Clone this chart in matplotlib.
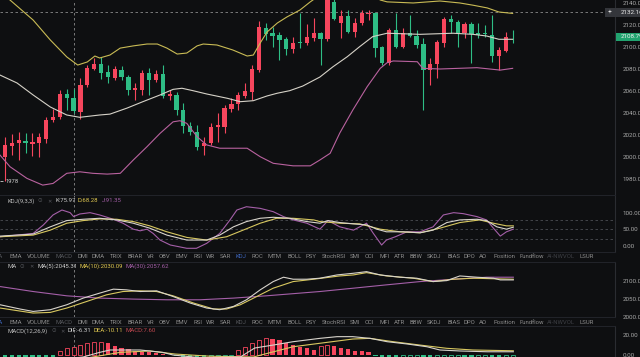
import matplotlib
matplotlib.use('Agg')
import matplotlib.pyplot as plt
import numpy as np

plt.rcParams['font.family'] = ['Roboto', 'DejaVu Sans']

W, H = 640, 357
BG = '#0e0f11'
UP = '#f6465d'
DOWN = '#2ebd85'
TXT = '#a8a8a8'
FS = 4.3

# ---------------- candle data ----------------
opens = [2000.3, 2010.3, 2013, 2014.8, 2012, 2013, 2016, 2033.6, 2036, 2057,
         2054, 2041, 2065.5, 2080, 2084.3, 2077.5, 2072, 2079, 2072.5, 2061,
         2061, 2076, 2070, 2075.5, 2055.7, 2056.4, 2042.7, 2028.5, 2023, 2010,
         2012.5, 2027.5, 2027.5, 2043.4, 2048, 2055.7, 2059.4, 2079, 2117, 2112.4,
         2111, 2107, 2098, 2104.8, 2103.4, 2108, 2112.5, 2107, 2141, 2122,
         2128, 2114, 2122, 2130, 2131.2, 2099.7, 2085.2, 2115, 2100.3, 2113,
         2110, 2102.7, 2079, 2084.5, 2104, 2125, 2123, 2112.5, 2121, 2112.5,
         2112.5, 2111, 2091.8, 2096.6, 2109.4]
highs = [2018.5, 2021, 2023, 2022, 2022, 2022, 2036.6, 2044, 2061, 2061.5,
         2062, 2071.5, 2083.6, 2089.7, 2090.6, 2083.6, 2083, 2082.7, 2074.5, 2067,
         2079, 2080.6, 2079, 2083.6, 2061, 2059.4, 2049, 2032, 2029, 2018.5,
         2030.6, 2039.7, 2047, 2053.4, 2059.4, 2067, 2083.6, 2124, 2121.5, 2118.5,
         2114, 2109.4, 2109.4, 2130.6, 2121, 2126, 2114, 2146, 2145, 2133.6,
         2133.6, 2126, 2133.6, 2133.6, 2132, 2101, 2117, 2130.6, 2117, 2129,
         2115.5, 2108, 2089.7, 2106.4, 2127.5, 2129, 2124.5, 2123, 2123, 2121.5,
         2120, 2129, 2100.3, 2114, 2115.5]
lows = [1978, 2002, 1997, 2004, 2001, 2000, 2012.5, 2032, 2035, 2043,
        2040, 2035, 2064, 2079, 2070.6, 2067.5, 2070, 2070, 2056.4, 2052,
        2056, 2056, 2068.5, 2053.4, 2052, 2038, 2021.5, 2020, 2006.4, 2002,
        2011, 2014, 2021.5, 2041, 2042.7, 2053.4, 2052, 2077.5, 2106.4, 2100.3,
        2088, 2092.7, 2094.3, 2099, 2101.8, 2105, 2083.6, 2105, 2124.5, 2108,
        2112.5, 2109.4, 2120, 2124.5, 2091, 2084, 2083.6, 2098.8, 2098.8, 2109.4,
        2098.8, 2042.7, 2065.5, 2071.5, 2100.3, 2112.5, 2100.3, 2108, 2085.2, 2108,
        2109.4, 2086.6, 2079, 2095, 2103.4]
closes = [2011, 2013, 2015.5, 2012.5, 2013.5, 2018, 2033.6, 2036.6, 2057, 2054,
          2042, 2065.5, 2080.6, 2084.3, 2076.6, 2072.5, 2079.7, 2072.5, 2061, 2062.5,
          2076, 2070, 2075.5, 2055.7, 2057, 2042.7, 2028, 2023, 2009.4, 2013,
          2027.5, 2029, 2044.3, 2048, 2056.4, 2060.3, 2079.7, 2118, 2111.8, 2110,
          2106.4, 2098, 2104, 2103.4, 2109, 2112.5, 2107, 2143, 2125, 2128,
          2114, 2122, 2130.6, 2131.2, 2098.8, 2085.2, 2115.5, 2100.3, 2113, 2110,
          2101.8, 2079, 2084.5, 2104.8, 2125, 2123, 2112.5, 2121, 2111.8, 2111.2,
          2111.5, 2091.8, 2097.3, 2109.4, 2108.79]

# ---------------- Bollinger bands ----------------
boll_up_x = [-1, 0.73, 4.1, 6.6, 9.0, 10.6, 12.0, 13.1, 13.8, 15.3, 16.8, 18.7, 20.7, 22.2, 23.6,
             25.1, 26.5, 28.0, 28.9, 30.9, 33.2, 35.3, 36.2, 37.2, 38.2, 39.7, 41.1, 43.0, 44.5,
             47, 50, 53, 54.7, 55.7, 59.5, 63.4, 66.3, 68.2, 70.3, 72.0, 74.0]
boll_up_y = [2150, 2142.7, 2124.5, 2106.4, 2091, 2083.6, 2086.4, 2091.8, 2090, 2092.7, 2099, 2101, 2102.7, 2102.7, 2099,
             2093.6, 2094.5, 2101, 2102.7, 2101.8, 2097.3, 2091.8, 2092.7, 2103.6, 2113.6, 2121.8, 2127.3, 2133.6, 2141,
             2152, 2158, 2150, 2142.7, 2141, 2140, 2141.8, 2140, 2138, 2135.5, 2131.8, 2130.5]
boll_mid_x = [-0.73, 1.75, 4.1, 6.6, 9.0, 10.9, 13.8, 15.3, 17.8, 20.1, 22.6, 24.5, 25.8, 27.4, 29.4,
              32.4, 34.3, 36.2, 38.2, 39.7, 41.5, 43.4, 45.9, 47.8, 49.9, 51.7, 53.6, 55.7, 60.5,
              65.3, 68.2, 70.2, 72.0, 74.0]
boll_mid_y = [2074.5, 2067.3, 2056.4, 2045.5, 2038.2, 2036.1, 2038.2, 2039, 2044.5, 2050.3, 2056.4, 2061.5, 2062.5, 2060.3, 2057.3,
              2053.4, 2050.3, 2051.2, 2055.5, 2058, 2060.3, 2064.5, 2072.7, 2082, 2091.2, 2100.3, 2109.4, 2112.5, 2111.5,
              2112.5, 2111.5, 2110, 2107, 2107]
boll_dn_x = [-0.73, 0.73, 3.2, 5.5, 7.0, 9.0, 10.9, 12.8, 14.9, 16.8, 18.7, 20.7, 22.6, 24.5, 25.5,
             26.5, 28.0, 29.4, 31.3, 35.3, 37.2, 39.1, 42.0, 44.5, 45.9, 47.4, 48.8, 50.7, 52.8,
             54.7, 55.7, 56.6, 60.1, 60.9, 63.4, 68.8, 72.2, 74.0]
boll_dn_y = [2001.8, 1991.2, 1980.6, 1974.5, 1976, 1985.2, 1986.6, 1985.2, 1984.5, 1985.2, 1997.3, 2009.4, 2021.5, 2032, 2033,
             2030.6, 2018.5, 2011, 2008, 2008, 2000.3, 1994.3, 1992, 1992, 1997.3, 2003.4, 2021.8, 2042.7, 2064,
             2080.6, 2085.7, 2087.3, 2086.6, 2080.6, 2080, 2081.2, 2079, 2080.6]

# ---------------- KDJ ----------------
k_x = [-0.7, 4.1, 6.6, 9.0, 11.4, 13.8, 16.3, 18.7, 21.1, 23.6, 26.5, 29.4, 31.3, 33.3, 35.2, 37.2, 39.1,
       41.5, 44.0, 45.9, 47.1, 48.8, 50.8, 52.7, 54.2, 55.6, 58.1, 60.5, 62.4, 64.4, 66.3, 68.8, 70.2,
       71.7, 73.1, 74.1]
k_y = [30, 36, 58, 77, 81, 84, 79, 69, 54, 33, 18, 18, 33, 58, 74, 84, 87,
       84, 74, 69, 77, 71, 67, 64, 51, 43, 43, 40, 48, 71, 79, 81, 77,
       58, 51, 57]
d_x = [-0.7, 4.1, 6.6, 9.0, 11.4, 13.8, 16.3, 18.7, 21.1, 23.6, 26.5, 29.4, 32.3, 34.7, 37.2, 39.6, 42.0,
       45.0, 45.9, 48.8, 51.7, 54.7, 57.6, 60.5, 63.4, 66.3, 69.2, 71.2, 73.1, 74.1]
d_y = [28, 33, 48, 69, 77, 82, 81, 74, 61, 43, 26, 18, 28, 48, 69, 84, 84,
       79, 74, 69, 67, 51, 43, 40, 54, 71, 79, 69, 61, 61]
j_x = [-0.7, 4.1, 5.6, 7.0, 8.3, 9.5, 10.0, 10.9, 12.4, 13.8, 15.8, 17.2, 18.7, 19.7, 20.7, 21.6, 22.6,
       24.1, 26.5, 27.9, 29.4, 31.3, 32.8, 33.8, 35.2, 37.2, 39.1, 40.6, 42.0, 44.0, 45.9, 47.1, 48.8,
       50.8, 52.7, 53.7, 54.9, 55.6, 56.9, 58.6, 60.5, 62.4, 63.9, 65.4, 66.8, 68.8, 70.2, 71.2, 72.2,
       73.1, 74.1]
j_y = [28, 38, 64, 94, 109, 101, 89, 97, 101, 94, 81, 69, 51, 46, 51, 38, 18,
       3, -7, -7, 8, 38, 79, 109, 119, 114, 104, 89, 79, 69, 51, 77, 58,
       48, 69, 38, 3, 18, 28, 43, 43, 58, 94, 101, 98, 89, 79, 54, 30,
       43, 51]

# ---------------- MA panel ----------------
ma5_x = [-0.7, 2.2, 4.1, 6.6, 9.0, 11.4, 13.8, 15.8, 17.7, 19.7, 22.1, 24.5, 27.0, 29.4, 31.3, 33.3,
         35.2, 37.2, 39.1, 40.6, 42.0, 44.0, 45.9, 48.4, 50.8, 52.7, 54.7, 57.6, 60.0, 62.4, 64.4,
         66.3, 68.8, 71.2, 72.2, 74.1]
ma5_y = [2033.6, 2021.9, 2015.3, 2020, 2033.6, 2051.9, 2065.6, 2076.5, 2074.6, 2070, 2071.9, 2056.3, 2038.3, 2024.6, 2020, 2029,
         2047.3, 2074.6, 2097.3, 2109.3, 2103.8, 2103.8, 2106.6, 2115.6, 2120.2, 2124.6, 2115.6, 2109.3, 2106.6, 2097.3, 2100,
         2112.8, 2109.3, 2106.6, 2101.9, 2101.9]
ma10_x = [-0.7, 4.1, 6.6, 9.0, 11.9, 14.8, 17.2, 19.7, 22.1, 24.5, 27.5, 30.4, 32.3, 34.3, 36.7, 39.1,
          42.0, 45.0, 48.8, 50.8, 52.7, 55.6, 59.5, 62.4, 65.4, 68.3, 72.2, 74.1]
ma10_y = [2024.6, 2010.9, 2012.6, 2024.6, 2042.6, 2060.9, 2070, 2071.9, 2070, 2058.2, 2038.3, 2021.9, 2021.9, 2033.6, 2056.3, 2079.2,
          2097.3, 2103.8, 2112.8, 2115.6, 2121.9, 2112.8, 2106.6, 2097.3, 2103.8, 2106.6, 2104.6, 2103.8]
ma30_x = [-0.7, 4.1, 9.0, 13.8, 18.7, 23.6, 28.4, 33.3, 38.1, 43.0, 45.9, 50.8, 55.6, 60.5, 65.4, 70.2, 74.1]
ma30_y = [2083.6, 2070, 2058.2, 2051.9, 2049.2, 2047.3, 2047.3, 2051.9, 2058.2, 2065.6, 2070, 2079.2, 2088.3, 2097.3, 2103.8,
          2109.3, 2109.3]

# ---------------- MACD ----------------
macd_hist = [-3, -3, -3, -3, -3, -3, -3, -3, 3.7, 6.5,
             8.1, 9.8, 11.6, 12.6, 13.2, 11.6, 9.1, 7.1, 5.5, 3.8,
             3.0, 2.4, 1.4, 0.3, -0.5, -1.2, -2, -2.5, -3, -3.2,
             -3, -2.5, -2, -1, 4.8, 8.1, 11.6, 14.6, 16.6, 16.4,
             14.6, 11.6, 9.8, 8.1, 6.5, 4.8, 8.8, 9.5, 8.8, 7,
             5.5, 4, 3.5, 3.0, -0.8, -2, -3, -3.5, -3.2, -3,
             -2.8, -3.5, -3.8, -3.4, -3, -2.6, -2.2, -2.5, -2.8, -2.4,
             -2, -2.6, -2.9, -2.5, -2.2]
dif_x = [-0.7, 5, 11.4, 13.8, 15.3, 19.7, 23.0, 24.5, 28.4, 34.3, 36.4, 39.1, 42.0, 45.9, 48.4, 50.7,
         53.2, 55.7, 58.6, 61.5, 63.4, 66.3, 70.3, 74.1]
dif_y = [-8, -7, -2.3, 2.4, 4.8, 4.8, 2.4, -0.3, -3, -2.3, 6.8, 9.8, 13.2, 16.6, 18.3, 18.3,
         16.6, 13.2, 10.9, 8.1, 4.8, 3.8, 3, 3]
dea_x = [-0.7, 6, 12.8, 16.8, 21.1, 24.8, 29.9, 36.2, 42.0, 45.9, 50.7, 53.2, 56.6, 60.5, 64.4, 68.2, 74.1]
dea_y = [-12, -10, -2.3, 2.4, 3.8, 0.7, -1.5, -2.3, 8.1, 11.6, 15.9, 16.6, 13.2, 9.8, 6.5, 4.8, 4]

# ---------------- texts ----------------
last_price = 2108.79
line_price = 2132.16
low_label = "1978"
crosshair_idx = 10
tabs = ["MA", "EMA", "VOLUME", "MACD", "DMI", "DMA", "TRIX", "BRAR", "VR", "OBV", "EMV", "RSI", "WR",
        "SAR", "KDJ", "ROC", "MTM", "BOLL", "PSY", "StochRSI", "SMI", "CCI", "MFI", "ATR", "BBW", "SKDJ",
        "BIAS", "DPO", "AO", "Position", "Fundflow", "AI-NWVOL", "LSUR"]

# ---------------- layout helpers ----------------
XMIN, XMAX = (0 - 5) / 6.86, (615 - 5) / 6.86


def rect(x0, y0, x1, y1):
    return [x0 / W, 1 - y1 / H, (x1 - x0) / W, (y1 - y0) / H]


def ftext(x, y, s, color=TXT, size=FS, **kw):
    fig.text(x / W, 1 - y / H, s, color=color, fontsize=size, va='center', ha=kw.pop('ha', 'left'), **kw)


fig = plt.figure(figsize=(6.4, 3.57), dpi=100, facecolor=BG)


def style(ax, ylim, yticks, fmt):
    ax.set_facecolor(BG)
    ax.set_xlim(XMIN, XMAX)
    ax.set_ylim(*ylim)
    for s in ['top', 'left', 'bottom']:
        ax.spines[s].set_visible(False)
    ax.spines['right'].set_color('#2a2c31')
    ax.spines['right'].set_linewidth(0.8)
    ax.set_xticks([])
    ax.yaxis.tick_right()
    ax.set_yticks(yticks)
    ax.set_yticklabels([fmt.format(v) for v in yticks])
    ax.tick_params(axis='y', length=0, pad=5.5, labelsize=4.5, labelcolor=TXT)
    ax.axvline(crosshair_idx, color='#8a8a8a', lw=0.6, ls=(0, (3, 3)), zorder=1)


# ---- main panel ----
ax = fig.add_axes(rect(0, 0, 615, 195))
style(ax, (1965.5, 2142.7), list(range(1980, 2141, 20)), '{:.2f}')
idx = np.arange(len(opens))
o, h, l, c = map(np.array, (opens, highs, lows, closes))
cols = np.where(c >= o, UP, DOWN)
ax.vlines(idx, l, h, colors=cols, lw=0.8, zorder=3)
ax.bar(idx, np.maximum(np.abs(c - o), 0.7), 0.62, bottom=np.minimum(o, c), color=cols, lw=0, zorder=3)
ax.plot(boll_up_x, boll_up_y, color='#c9bb55', lw=0.8, zorder=4)
ax.plot(boll_mid_x, boll_mid_y, color='#d6d2c8', lw=0.8, zorder=4)
ax.plot(boll_dn_x, boll_dn_y, color='#b9629f', lw=0.8, zorder=4)
ax.hlines(line_price, XMIN, (605 - 5) / 6.86, color='#8a8a8a', lw=0.6, ls=(0, (3, 3)), zorder=2)
ax.hlines(lows[0], -0.7, -0.3, color='#cfcfcf', lw=0.6)
ax.text(0.1, lows[0], low_label, color='#cfcfcf', fontsize=4.2, va='center', ha='left')

# price labels
fig.patches.append(plt.Rectangle((605 / W, 1 - 16.5 / H), 35 / W, 8 / H, transform=fig.transFigure,
                                 facecolor='#34363b', edgecolor='none', zorder=5))
ftext(607.5, 12.6, '+', color='#e0e0e0', size=5.0, zorder=6)
ftext(620.5, 12.7, f'{line_price:.2f}', color='#e8e8e8', size=4.5, zorder=6)
fig.patches.append(plt.Rectangle((616 / W, 1 - 41 / H), 24 / W, 8 / H, transform=fig.transFigure,
                                 facecolor='#21a36f', edgecolor='none', zorder=5))
ftext(620.5, 37, f'{last_price:.2f}', color='#f0f0f0', size=4.5, zorder=6)

# ---- KDJ panel ----
axk = fig.add_axes(rect(0, 195, 615, 252))
style(axk, (-18.2, 154.5), [0, 50, 100], '{:.2f}')
for v in (80, 50, 20):
    axk.axhline(v, color='#4a4c52', lw=0.6, ls=(0, (3, 3)), zorder=1)
axk.plot(j_x, j_y, color='#a45fa8', lw=0.8, zorder=3)
axk.plot(d_x, d_y, color='#d8c860', lw=0.8, zorder=3)
axk.plot(k_x, k_y, color='#d8d4cc', lw=0.8, zorder=3)

# ---- MA panel ----
axm = fig.add_axes(rect(0, 262, 615, 317))
style(axm, (2000.8, 2151.1), [2000, 2050, 2100], '{:.2f}')
axm.plot(ma30_x, ma30_y, color='#a45fa8', lw=0.8)
axm.plot(ma10_x, ma10_y, color='#d8c860', lw=0.8)
axm.plot(ma5_x, ma5_y, color='#d8d4cc', lw=0.8)

# ---- MACD panel ----
axc = fig.add_axes(rect(0, 326, 615, 357))
style(axc, (-2.3, 29.1), [0, 20], '{:.2f}')
hist = np.array(macd_hist)
rising = np.r_[False, hist[1:] > hist[:-1]]
hc = np.where(hist >= 0, UP, DOWN)
for i, v in enumerate(hist):
    if rising[i]:
        axc.bar(i, v, 0.58, facecolor=BG, edgecolor=hc[i], lw=0.6, zorder=2)
    else:
        axc.bar(i, v, 0.62, color=hc[i], lw=0, zorder=2)
axc.plot(dea_x, dea_y, color='#d8c860', lw=0.8, zorder=3)
axc.plot(dif_x, dif_y, color='#d8d4cc', lw=0.8, zorder=3)

# ---- separators ----
for yy in (195, 252, 262, 317, 326):
    fig.add_artist(plt.Line2D([0, 615 / W], [1 - yy / H] * 2, color='#22242a', lw=0.7))

# ---- headers ----
DIM = '#55575c'
ftext(7, 201, 'KDJ(9,3,3)', color='#bdbdbd')
ftext(37, 201, '⊙', color=DIM, size=4.0)
ftext(47, 201, '✕', color=DIM, size=3.8)
ftext(56, 201, 'K:75.97', color='#d0d0d0')
ftext(78, 201, 'D:68.28', color='#e0c850')
ftext(102, 201, 'J:91.35', color='#a45fa8')

ftext(7, 266, 'MA', color='#bdbdbd')
ftext(20, 266, '⊙', color=DIM, size=4.0)
ftext(29, 266, '✕', color=DIM, size=3.8)
ftext(37, 266, 'MA(5):2045.31', color='#d0d0d0')
ftext(80, 266, 'MA(10):2030.09', color='#e0c850')
ftext(126, 266, 'MA(30):2057.62', color='#a45fa8')

ftext(7, 331, 'MACD(12,26,9)', color='#bdbdbd')
ftext(52, 331, '⊙', color=DIM, size=4.0)
ftext(60, 331, '✕', color=DIM, size=3.8)
ftext(68, 331, 'DIF:-6.31', color='#d0d0d0')
ftext(94, 331, 'DEA:-10.11', color='#e0c850')
ftext(126, 331, 'MACD:7.60', color='#c0474f')

# ---- indicator tab rows ----
tab_x = [-6, 10, 27, 55, 77, 92, 110, 128, 147, 159, 176, 193, 206, 220, 236, 252, 268, 287, 305,
         322, 350, 365, 379, 394, 410, 427, 447, 464, 479, 493, 519, 547, 580]
BLUE = '#3f68c0'
for yy, active, dims in ((257, 'KDJ', ('MA', 'MACD', 'AI-NWVOL')),
                         (322, 'MA', ('KDJ', 'MACD', 'AI-NWVOL'))):
    for name, xx in zip(tabs, tab_x):
        col = BLUE if name == active else (DIM if name in dims else '#8c8c8c')
        if name == 'AI-NWVOL':
            col = '#3c3e43'
        ftext(xx, yy, name, color=col, size=FS)

fig.savefig('out.png', dpi=100, facecolor=BG)
